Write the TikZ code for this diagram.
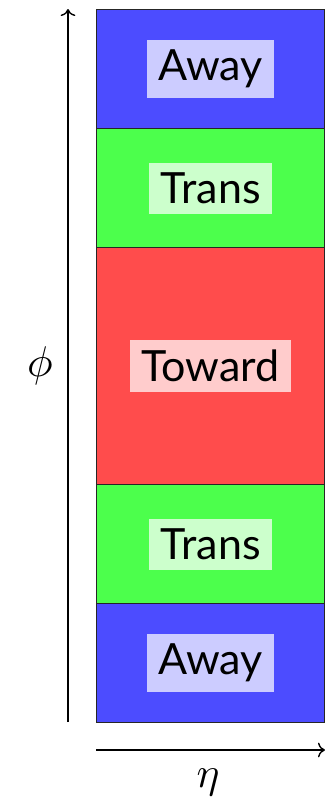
\documentclass[tikz,border=0pt]{standalone}
\usepackage{fontspec}
\setmainfont{Lato}
\usetikzlibrary{arrows.meta}
\begin{document}
\begin{tikzpicture}[x=1pt,y=1pt,
  band/.style={draw=black!85,line width=1.4pt,minimum width=228pt,inner sep=0pt,anchor=north west},
  lab/.style={inner xsep=11.5pt,inner ysep=10pt,font=\fontsize{43}{48}\selectfont},
  axis/.style={line width=1.4pt,-{To[scale=1.5]}}]
\useasboundingbox (0,0) rectangle (327,-801);
\node[band,fill=blue!70,minimum height=119pt] (b1) at (96,-9) {};
\node[band,fill=green!70,minimum height=119pt] (b2) at (96,-128) {};
\node[band,fill=red!70,minimum height=237pt] (b3) at (96,-247) {};
\node[band,fill=green!70,minimum height=119pt] (b4) at (96,-484) {};
\node[band,fill=blue!70,minimum height=119pt] (b5) at (96,-603) {};
\node[lab,fill=blue!20] (l1) at (b1.center) {Away};
\node[lab,fill=green!20] (l2) at (b2.center) {Trans};
\node[lab,fill=red!20] (l3) at (b3.center) {Toward};
\node[lab,fill=green!20] (l4) at (b4.center) {Trans};
\node[lab,fill=blue!20] (l5) at (b5.center) {Away};
\coordinate (v0) at (68,-722);
\coordinate (v1) at (68,-9);
\coordinate (h0) at (96,-750);
\coordinate (h1) at (325,-750);
\draw[axis] (v0) -- (v1);
\draw[axis] (h0) -- (h1);
\node[scale=4.3,inner sep=0pt] (phi) at (40,-366) {$\phi$};
\node[scale=4.3,inner sep=0pt] (eta) at (208,-782) {$\eta$};
\end{tikzpicture}
\end{document}
